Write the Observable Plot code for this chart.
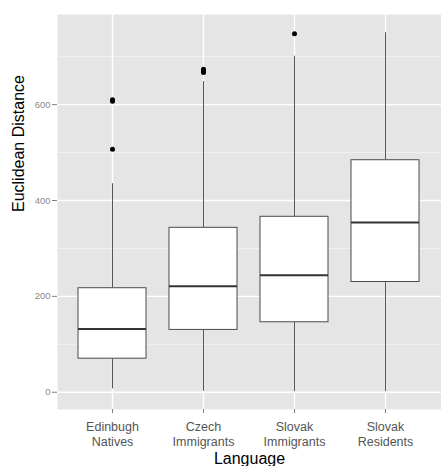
<!DOCTYPE html>
<html><head><meta charset="utf-8">
<script src="https://cdn.jsdelivr.net/npm/d3@7"></script>
<script src="https://cdn.jsdelivr.net/npm/@observablehq/plot@0.6"></script>
<style>body{margin:0;background:#fff} svg{display:block}</style>
</head><body><div id="chart"></div>
<script>
const categories = ["Edinbugh\nNatives", "Czech\nImmigrants", "Slovak\nImmigrants", "Slovak\nResidents"];
const lowerWhisker = [7, 2, 1, 1];
const q1 = [70, 130, 146, 230];
const median = [132, 221, 244, 354];
const q3 = [217, 343, 366, 484];
const upperWhisker = [435, 648, 701, 750];
const outlierGroup = [0, 0, 0, 1, 1, 1, 2];
const outlierValue = [607, 610, 507, 667, 670, 674, 748];
const yTicks = [0, 200, 400, 600];
const yMinorTicks = [100, 300, 500, 700];

const stats = categories.map((c, i) => ({c, lo: lowerWhisker[i], q1: q1[i], med: median[i], q3: q3[i], hi: upperWhisker[i]}));
const outliers = outlierGroup.map((g, i) => ({c: categories[g], v: outlierValue[i]}));

const chart = Plot.plot({
  width: 441, height: 466,
  marginLeft: 57, marginRight: 0, marginTop: 14, marginBottom: 57,
  style: {fontFamily: "'Liberation Sans', Arial, sans-serif", background: "white"},
  x: {type: "band", domain: categories, paddingInner: 0.25, paddingOuter: 0.225, label: null},
  y: {domain: [-36, 788], label: null},
  marks: [
    Plot.frame({fill: "#e5e5e5", stroke: "none"}),
    Plot.gridY(yMinorTicks, {stroke: "#f2f2f2", strokeOpacity: 1, strokeWidth: 1}),
    Plot.gridY(yTicks, {stroke: "#ffffff", strokeOpacity: 1, strokeWidth: 1.3}),
    Plot.gridX(categories, {stroke: "#ffffff", strokeOpacity: 1, strokeWidth: 1.3}),
    Plot.axisY(yTicks, {tickSize: 5, tickPadding: 2, stroke: "#7f7f7f", fill: "#8a8a8a", fontSize: 9.5, label: null}),
    Plot.axisX({tickSize: 4, tickPadding: 7, fontSize: 12.5, lineHeight: 1.2, stroke: "#7f7f7f", fill: "#555555", label: null}),
    Plot.ruleX(stats, {x: "c", y1: "lo", y2: "q1", stroke: "#555555", strokeWidth: 1}),
    Plot.ruleX(stats, {x: "c", y1: "q3", y2: "hi", stroke: "#555555", strokeWidth: 1}),
    Plot.barY(stats, {x: "c", y1: "q1", y2: "q3", fill: "white", stroke: "#4a4a4a", strokeWidth: 1}),
    Plot.tickY(stats, {x: "c", y: "med", stroke: "#333333", strokeWidth: 2}),
    Plot.dot(outliers, {x: "c", y: "v", r: 2.5, fill: "black", stroke: "none"}),
    Plot.text(["Euclidean Distance"], {text: d => d, frameAnchor: "left", dx: -39, rotate: -90, fontSize: 16, fill: "black"}),
    Plot.text(["Language"], {text: d => d, frameAnchor: "bottom", dy: 54, fontSize: 16, fill: "black"})
  ]
});
document.getElementById("chart").append(chart);
</script>
</body></html>
